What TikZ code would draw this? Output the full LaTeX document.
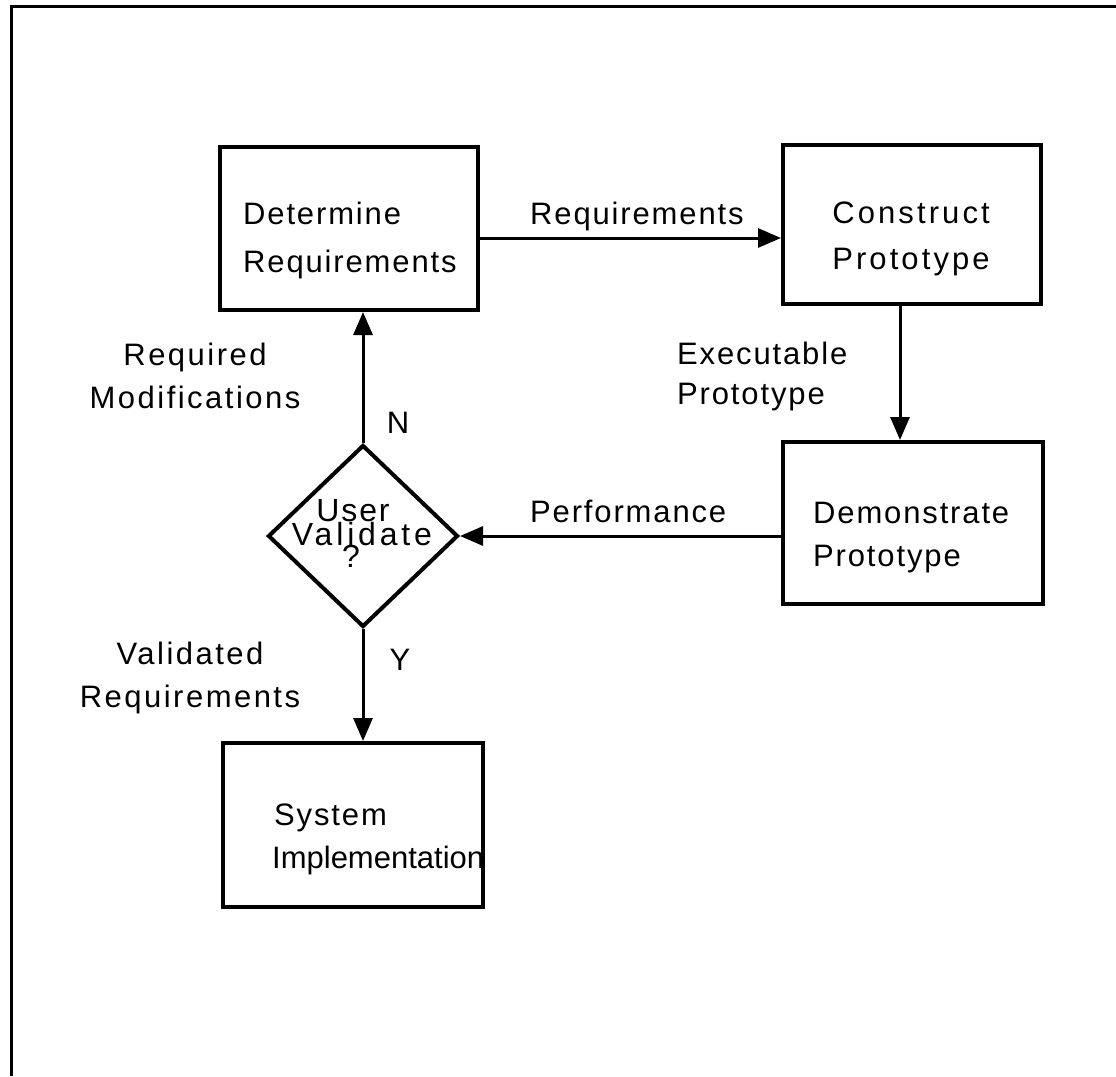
\documentclass[tikz,border=0pt]{standalone}
\usepackage{fontspec}
\setmainfont{Liberation Sans}[LetterSpace=6]
\usetikzlibrary{arrows.meta,shapes.geometric}

\begin{document}
\begin{tikzpicture}[x=1pt,y=-1pt,
  every node/.style={font=\fontsize{31}{46}\selectfont},
  procbox/.style={draw,line width=4pt,rectangle,inner sep=0pt},
  decide/.style={draw,line width=4pt,diamond,inner sep=0pt},
  txt/.style={inner sep=0pt,anchor=north west,align=left},
  ctxt/.style={inner sep=0pt,anchor=north,align=center},
  dtxt/.style={inner sep=0pt,anchor=north,font=\fontsize{32}{32}\selectfont},
  arr/.style={line width=3pt,-{Triangle[length=23pt,width=19pt]}}]
\useasboundingbox (0,0) rectangle (1116,1076);

% sheet border (top and left edges)
\draw[line width=3pt] (11,1076) -- (11,6) -- (1116,6);

% process boxes
\node[procbox,minimum width=258pt,minimum height=163pt] (det) at (349,228.5) {};
\node[procbox,minimum width=258pt,minimum height=159pt] (con) at (912,224.5) {};
\node[procbox,minimum width=260pt,minimum height=162pt] (dem) at (913,523) {};
\node[procbox,minimum width=260pt,minimum height=164pt] (sys) at (353,825) {};
\node[decide,minimum width=190pt,minimum height=182pt] (dia) at (363,536) {};

% box texts
\node[txt] (tdet) at (243,202) {Determine\\[2pt]Requirements};
\node[ctxt] (tcon) at (911,202) {\addfontfeature{LetterSpace=10}Construct\\\addfontfeature{LetterSpace=10}Prototype};
\node[txt] (tdem) at (813,502) {Demonstrate\\[-3pt]Prototype};
\node[txt] (tsys) at (272,804) {\hspace*{2pt}System\\[-3pt]\addfontfeature{LetterSpace=0}Implementation};
\node[dtxt] (tdia1) at (353,499) {\addfontfeature{LetterSpace=6}User};
\node[dtxt] (tdia2) at (362,522) {\addfontfeature{LetterSpace=12}Validate};
\node[dtxt] (tdia3) at (351,545) {?};

% connector labels
\node[txt] (lreq) at (530,202) {Requirements};
\node[txt] (lexe) at (677,342) {Executable\\[-6pt]Prototype};
\node[txt] (lperf) at (530,500) {Performance};
\node[ctxt] (lmod) at (195,343) {\addfontfeature{LetterSpace=8}Required\\[-3pt]\addfontfeature{LetterSpace=8}Modifications};
\node[ctxt] (lval) at (190,642) {\addfontfeature{LetterSpace=8}Validated\\[-3pt]\addfontfeature{LetterSpace=8}Requirements};
\node[ctxt] (ln) at (398,412) {N};
\node[ctxt] (ly) at (400,649) {Y};

% connectors
\draw[arr] ([yshift=-9.5pt]det.east) -- ([yshift=-13.5pt]con.west);
\draw[arr] ([xshift=-12pt]con.south) -- ([xshift=-13pt]dem.north);
\draw[arr] (dia.east -| dem.west) -- (dia.east);
\draw[arr] (dia.north) -- (dia.north |- det.south);
\draw[arr] (dia.south) -- (dia.south |- sys.north);
\end{tikzpicture}
\end{document}
